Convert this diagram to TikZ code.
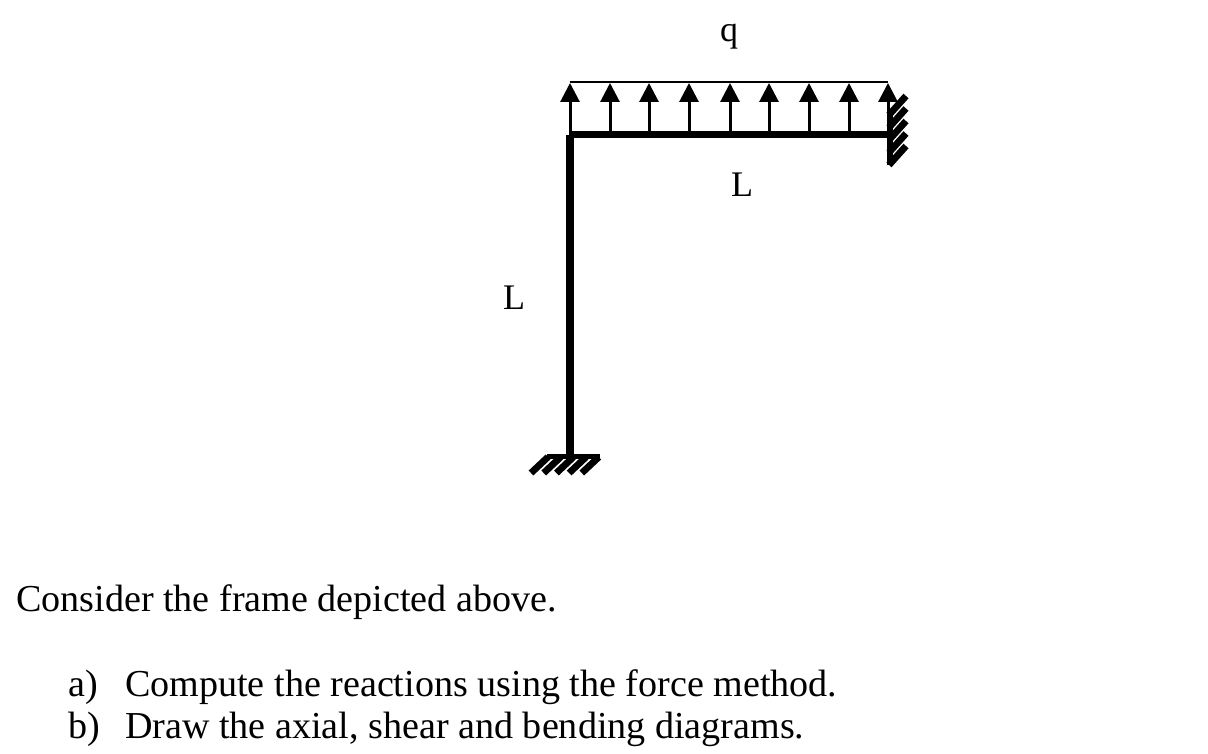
\documentclass[tikz,border=0pt]{standalone}
\usepackage{fontspec}
\setmainfont{Liberation Serif}
\usetikzlibrary{arrows.meta}
\tikzset{
  member/.style={line width=7.6pt,line cap=butt},
  wallbar/.style={line width=6.5pt},
  hatchbar/.style={line width=6.8pt},
  loadline/.style={line width=2pt},
  loadarrow/.style={line width=3pt,-{Triangle[length=19pt,width=19pt]},shorten >=-1pt},
  lab/.style={font=\fontsize{36}{36}\selectfont,inner sep=0pt,text=black},
  body/.style={font=\fontsize{38.1}{38.1}\selectfont,inner sep=0pt,anchor=base west,text=black}
}
\begin{document}
\begin{tikzpicture}[x=1pt,y=-1pt]
\useasboundingbox (0,0) rectangle (1208,754);
% frame
\coordinate (corner) at (569,134.5);
\coordinate (columntop) at (570,135);
\coordinate (base) at (570,456);
\coordinate (fixR) at (889,134.5);
\draw[member] (corner) -- (fixR);
\draw[member] (columntop) -- (base);
% load
\coordinate (loadL) at (570,82);
\coordinate (loadR) at (888,82);
\draw[loadline] (loadL) -- (loadR);
\foreach \i/\x in {0/570,1/610,2/649,3/689,4/730,5/769,6/809,7/849,8/888}{
  \coordinate (b\i) at (\x,132);
  \coordinate (t\i) at (\x,84);
  \draw[loadarrow] (b\i) -- (t\i);
}
% right support
\coordinate (wt) at (890,112);
\coordinate (wb) at (890,165);
\foreach \i in {0,1,2,3,4}{
  \coordinate (ra\i) at (889,{115+12.5*\i});
  \coordinate (rb\i) at (906,{96+12.5*\i});
  \draw[hatchbar] (ra\i) -- (rb\i);
}
\draw[wallbar] (wt) -- (wb);
% bottom support
\coordinate (gl) at (547,456.5);
\coordinate (gr) at (600,456.5);
\foreach \i in {0,1,2,3,4}{
  \coordinate (ga\i) at ({531+12.7*\i},473);
  \coordinate (gb\i) at ({548+12.7*\i},457);
  \draw[hatchbar] (ga\i) -- (gb\i);
}
\draw[wallbar,line width=4.5pt] (gl) -- (gr);
% labels
\node[lab] (q) at (729,37) {q};
\node[lab] (L1) at (742,185) {L};
\node[lab] (L2) at (514,298) {L};
\node[body] (t1) at (16,611) {Consider the frame depicted above.};
\node[body] (t2) at (68,696) {\makebox[57pt][l]{a)}Compute the reactions using the force method.};
\node[body] (t3) at (68,738) {\makebox[57pt][l]{b)}Draw the axial, shear and bending diagrams.};
\end{tikzpicture}
\end{document}
